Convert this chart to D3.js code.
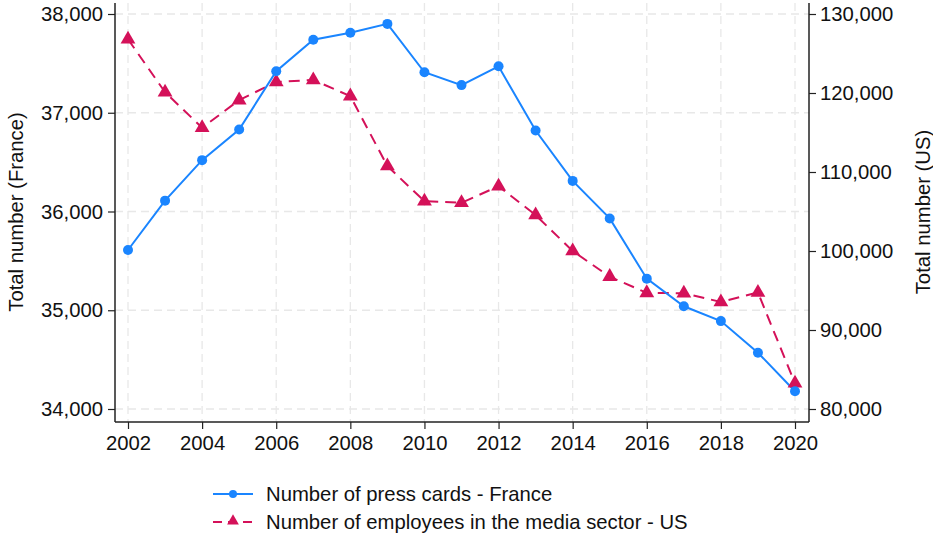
<!DOCTYPE html>
<html>
<head>
<meta charset="utf-8">
<script src="https://cdn.jsdelivr.net/npm/d3@7"></script>
<style>
  body { margin: 0; background: #fff; }
  svg { font-family: "Liberation Sans", Arial, Helvetica, sans-serif; }
</style>
</head>
<body>
<div id="stage"></div>
<script>
const years = d3.range(2002, 2021);
const france = [35610, 36110, 36520, 36830, 37420, 37740, 37810, 37900, 37410, 37280,
                37470, 36820, 36310, 35930, 35320, 35040, 34890, 34570, 34180];
const us = [126800, 120100, 115600, 119100, 121400, 121650, 119600, 110750, 106300, 106100,
            108200, 104550, 100000, 96750, 94700, 94650, 93550, 94750, 83250];
const leftTicks = [34000, 35000, 36000, 37000, 38000];
const rightTicks = [80000, 90000, 100000, 110000, 120000, 130000];
const xTicks = d3.range(2002, 2021, 2);
const labels = ['Number of press cards - France', 'Number of employees in the media sector - US'];

const W = 933, H = 535;
const blue = '#1a85ff', red = '#d41159';
const fmt = d3.format(',');
const fs = 20.3;

const svg = d3.select('#stage').append('svg')
  .attr('width', W)
  .attr('height', H);

const x = d3.scaleLinear().domain([2002, 2020]).range([128, 795]);
const yL = d3.scaleLinear().domain([34000, 38000]).range([409, 14]);
const yR = d3.scaleLinear().domain([80000, 130000]).range([409, 14]);
const plotTop = 3, plotBottom = 422, plotLeft = 115, plotRight = 809;

// grid
const grid = svg.append('g')
  .attr('stroke', '#e8e8e8')
  .attr('stroke-width', 1.3)
  .attr('stroke-dasharray', '8,5');
grid.selectAll('.hg').data(leftTicks).join('line')
  .attr('x1', plotLeft).attr('x2', plotRight)
  .attr('y1', d => yL(d)).attr('y2', d => yL(d));
grid.selectAll('.vg').data(xTicks).join('line')
  .attr('y1', plotTop).attr('y2', plotBottom)
  .attr('x1', d => x(d)).attr('x2', d => x(d));

// axes
const axL = svg.append('g').attr('transform', `translate(${plotLeft},0)`)
  .call(d3.axisLeft(yL).tickValues(leftTicks).tickFormat(fmt).tickSizeOuter(0).tickSize(7).tickPadding(5));
const axR = svg.append('g').attr('transform', `translate(${plotRight},0)`)
  .call(d3.axisRight(yR).tickValues(rightTicks).tickFormat(fmt).tickSizeOuter(0).tickSize(7).tickPadding(4));
const axB = svg.append('g').attr('transform', `translate(0,${plotBottom})`)
  .call(d3.axisBottom(x).tickValues(xTicks).tickFormat(d3.format('d')).tickSizeOuter(0).tickSize(7).tickPadding(7));

[axL, axR, axB].forEach(ax => {
  ax.select('.domain').remove();
  ax.selectAll('text').attr('font-size', fs).attr('fill', '#111').attr('font-family', null);
  ax.selectAll('line').attr('stroke', '#222').attr('stroke-width', 1.2);
});
svg.append('line').attr('x1', plotLeft).attr('x2', plotLeft).attr('y1', plotTop).attr('y2', plotBottom)
  .attr('stroke', '#222').attr('stroke-width', 1.5);
svg.append('line').attr('x1', plotRight).attr('x2', plotRight).attr('y1', plotTop).attr('y2', plotBottom)
  .attr('stroke', '#222').attr('stroke-width', 1.5);
svg.append('line').attr('x1', plotLeft).attr('x2', plotRight).attr('y1', plotBottom).attr('y2', plotBottom)
  .attr('stroke', '#222').attr('stroke-width', 1.5);

// axis titles
svg.append('text')
  .attr('transform', `translate(23,212) rotate(-90)`)
  .attr('text-anchor', 'middle')
  .attr('font-size', fs)
  .attr('fill', '#111')
  .text('Total number (France)');
svg.append('text')
  .attr('transform', `translate(930,212) rotate(-90)`)
  .attr('text-anchor', 'middle')
  .attr('font-size', fs)
  .attr('fill', '#111')
  .text('Total number (US)');

// series
const tri = d3.symbol().type(d3.symbolTriangle).size(95);

svg.append('path')
  .datum(years.map((yr, i) => [yr, us[i]]))
  .attr('fill', 'none')
  .attr('stroke', red)
  .attr('stroke-width', 2)
  .attr('stroke-dasharray', '11,7')
  .attr('d', d3.line().x(d => x(d[0])).y(d => yR(d[1])));

svg.append('path')
  .datum(years.map((yr, i) => [yr, france[i]]))
  .attr('fill', 'none')
  .attr('stroke', blue)
  .attr('stroke-width', 2)
  .attr('d', d3.line().x(d => x(d[0])).y(d => yL(d[1])));

svg.selectAll('.tri').data(years.map((yr, i) => [yr, us[i]])).join('path')
  .attr('transform', d => `translate(${x(d[0])},${yR(d[1])})`)
  .attr('d', tri)
  .attr('fill', red);

svg.selectAll('.dot').data(years.map((yr, i) => [yr, france[i]])).join('circle')
  .attr('cx', d => x(d[0]))
  .attr('cy', d => yL(d[1]))
  .attr('r', 5)
  .attr('fill', blue);

// legend
const leg = svg.append('g');
const rows = [494, 522];
leg.append('line').attr('x1', 213).attr('x2', 253).attr('y1', rows[0]).attr('y2', rows[0])
  .attr('stroke', blue).attr('stroke-width', 2);
leg.append('circle').attr('cx', 233).attr('cy', rows[0]).attr('r', 4).attr('fill', blue);
leg.append('line').attr('x1', 213).attr('x2', 253).attr('y1', rows[1]).attr('y2', rows[1])
  .attr('stroke', red).attr('stroke-width', 2).attr('stroke-dasharray', '9,6');
leg.append('path').attr('transform', `translate(233,${rows[1] - 1})`)
  .attr('d', d3.symbol().type(d3.symbolTriangle).size(60)).attr('fill', red);
leg.selectAll('text').data(labels).join('text')
  .attr('x', 266)
  .attr('y', (d, i) => rows[i])
  .attr('dy', '0.35em')
  .attr('font-size', fs)
  .attr('fill', '#111')
  .text(d => d);
</script>
</body>
</html>
